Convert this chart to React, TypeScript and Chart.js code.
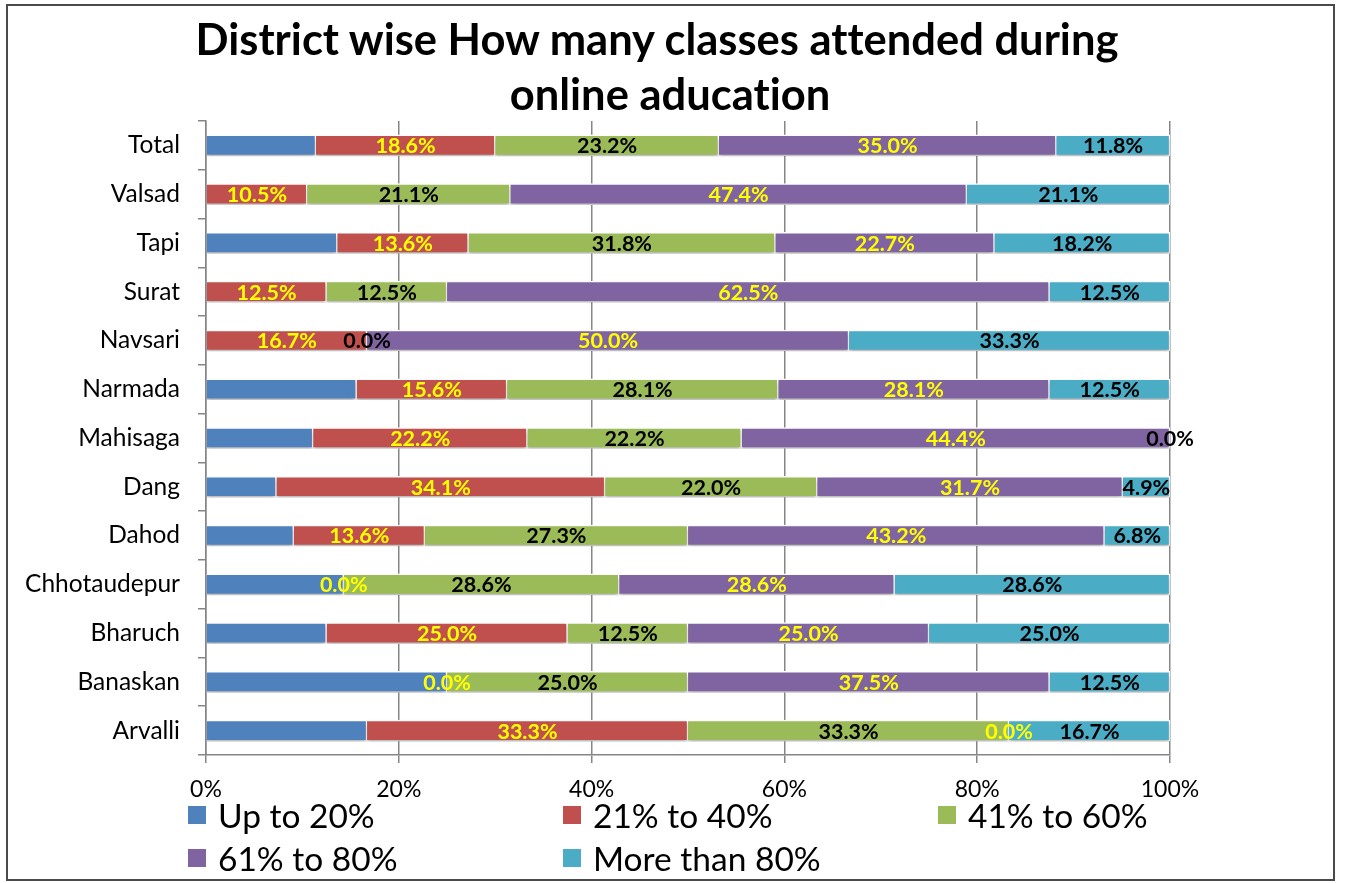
import React, { useEffect, useRef } from 'react';
import { Chart, registerables } from 'chart.js';

Chart.register(...registerables);

const titleLines = ['District wise How many classes attended during', 'online aducation'];
const districts = ['Total', 'Valsad', 'Tapi', 'Surat', 'Navsari', 'Narmada', 'Mahisaga', 'Dang', 'Dahod', 'Chhotaudepur', 'Bharuch', 'Banaskan', 'Arvalli'];
const seriesNames = ['Up to 20%', '21% to 40%', '41% to 60%', '61% to 80%', 'More than 80%'];
const upTo20 = [11.4, 0.0, 13.6, 0.0, 0.0, 15.6, 11.1, 7.3, 9.1, 14.3, 12.5, 25.0, 16.7];
const p21to40 = [18.6, 10.5, 13.6, 12.5, 16.7, 15.6, 22.2, 34.1, 13.6, 0.0, 25.0, 0.0, 33.3];
const p41to60 = [23.2, 21.1, 31.8, 12.5, 0.0, 28.1, 22.2, 22.0, 27.3, 28.6, 12.5, 25.0, 33.3];
const p61to80 = [35.0, 47.4, 22.7, 62.5, 50.0, 28.1, 44.4, 31.7, 43.2, 28.6, 25.0, 37.5, 0.0];
const above80 = [11.8, 21.1, 18.2, 12.5, 33.3, 12.5, 0.0, 4.9, 6.8, 28.6, 25.0, 12.5, 16.7];
const xTicks = [0, 20, 40, 60, 80, 100];

const seriesValues = [upTo20, p21to40, p41to60, p61to80, above80];
const seriesColors = ['#4F81BD', '#C0504D', '#9BBB59', '#8064A2', '#4BACC6'];
const labelColors: (string | null)[] = [null, '#FFFF00', '#000000', '#FFFF00', '#000000'];

const FONT = 'Lato, "Open Sans", sans-serif';

const legendPos = [
  { x: 188, y: 815 },
  { x: 563, y: 815 },
  { x: 938, y: 815 },
  { x: 188, y: 858 },
  { x: 563, y: 858 },
];

const rowSums = districts.map((_, i) => seriesValues.reduce((s, arr) => s + arr[i], 0));

const labelPlugin = {
  id: 'barLabelsShadow',
  beforeDatasetsDraw(chart: any) {
    const ctx = chart.ctx;
    ctx.save();
    ctx.shadowColor = 'rgba(0,0,0,0.28)';
    ctx.shadowBlur = 4;
    ctx.shadowOffsetX = 0;
    ctx.shadowOffsetY = 3;
  },
  afterDatasetsDraw(chart: any) {
    const ctx = chart.ctx;
    ctx.restore();
    ctx.save();
    ctx.font = `bold 21.5px ${FONT}`;
    ctx.textAlign = 'center';
    ctx.textBaseline = 'middle';
    chart.data.datasets.forEach((ds: any, di: number) => {
      const color = labelColors[di];
      if (!color) return;
      const meta = chart.getDatasetMeta(di);
      meta.data.forEach((bar: any, i: number) => {
        const raw = seriesValues[di][i];
        const cx = (bar.x + bar.base) / 2;
        ctx.fillStyle = color;
        ctx.fillText(raw.toFixed(1) + '%', cx, bar.y + 1);
      });
    });
    ctx.restore();
  },
};

export default function App() {
  const canvasRef = useRef<HTMLCanvasElement | null>(null);

  useEffect(() => {
    if (!canvasRef.current) return;
    const chart = new Chart(canvasRef.current, {
      type: 'bar',
      data: {
        labels: districts,
        datasets: seriesNames.map((name, si) => ({
          label: name,
          data: seriesValues[si].map((v, i) => (v / rowSums[i]) * 100),
          backgroundColor: seriesColors[si],
          borderColor: '#FFFFFF',
          borderWidth: 1.5,
          barThickness: 21,
        })),
      },
      options: {
        indexAxis: 'y',
        responsive: false,
        animation: false,
        layout: { padding: { top: 121, right: 185, bottom: 78, left: 0 } },
        plugins: {
          legend: { display: false },
          title: { display: false },
          tooltip: { enabled: false },
        },
        scales: {
          x: {
            stacked: true,
            min: 0,
            max: 100,
            afterFit: (scale: any) => { scale.height = 50; },
            afterBuildTicks: (scale: any) => { scale.ticks = xTicks.map((v) => ({ value: v })); },
            ticks: {
              callback: (v: any) => v + '%',
              color: '#000000',
              font: { family: FONT, size: 23 },
              padding: 13,
              maxRotation: 0,
            },
            grid: { color: '#868686', lineWidth: 1.5, tickLength: 8, drawTicks: true },
            border: { color: '#868686', width: 1.5 },
          },
          y: {
            stacked: true,
            afterFit: (scale: any) => { scale.width = 206; },
            ticks: {
              color: '#000000',
              font: { family: FONT, size: 24.5 },
              padding: 18,
            },
            grid: { offset: true, drawOnChartArea: false, color: '#868686', lineWidth: 1.5, tickLength: 8 },
            border: { color: '#868686', width: 1.5 },
          },
        },
      },
      plugins: [labelPlugin],
    });
    return () => chart.destroy();
  }, []);

  const titleStyle: React.CSSProperties = {
    position: 'absolute', width: 1100, textAlign: 'center', fontWeight: 700, fontSize: 43.5,
    lineHeight: '52px', color: '#000', whiteSpace: 'nowrap', fontVariantLigatures: 'none',
  };

  return (
    <div style={{ position: 'absolute', left: 0, top: 0, width: 1355, height: 883, background: '#fff', fontFamily: FONT, fontVariantLigatures: 'none' }}>
      <div style={{ position: 'absolute', left: 6, top: 4, width: 1329, height: 877, border: '2px solid #4a4a4a', boxSizing: 'border-box' }} />
      <canvas ref={canvasRef} width={1355} height={883} style={{ position: 'absolute', left: 0, top: 0 }} />
      <div style={{ ...titleStyle, left: 107, top: 12 }}>{titleLines[0]}</div>
      <div style={{ ...titleStyle, left: 120, top: 67 }}>{titleLines[1]}</div>
      {seriesNames.map((name, i) => (
        <div key={name} style={{ position: 'absolute', left: legendPos[i].x, top: legendPos[i].y - 20, height: 40, display: 'flex', alignItems: 'center', whiteSpace: 'nowrap' }}>
          <span style={{ display: 'inline-block', width: 18, height: 18, background: seriesColors[i], marginRight: 12 }} />
          <span style={{ fontSize: 33.5, color: '#000', lineHeight: '40px' }}>{name}</span>
        </div>
      ))}
    </div>
  );
}
